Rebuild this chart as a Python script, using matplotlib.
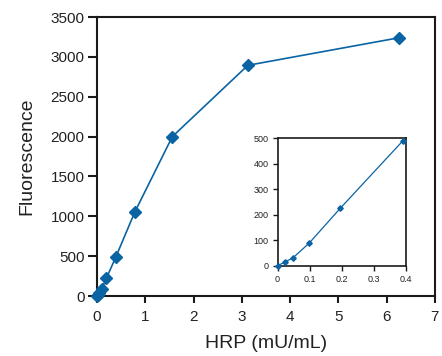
import matplotlib
matplotlib.use("Agg")
import matplotlib.pyplot as plt

hrp = [0.0, 0.0244, 0.049, 0.098, 0.195, 0.39, 0.78, 1.56, 3.125, 6.25]
fluor = [0, 15, 32, 88, 225, 490, 1050, 2000, 2895, 3240]

main_xticks = [0, 1, 2, 3, 4, 5, 6, 7]
main_yticks = [0, 500, 1000, 1500, 2000, 2500, 3000, 3500]
inset_xticks = [0, 0.1, 0.2, 0.3, 0.4]
inset_xlabels = ["0", "0.1", "0.2", "0.3", "0.4"]
inset_yticks = [0, 100, 200, 300, 400, 500]

color = "#0a64a4"
plt.rcParams['font.family'] = ['Liberation Sans', 'DejaVu Sans']

fig = plt.figure(figsize=(4.42, 3.56), dpi=100)
ax = fig.add_axes([0.2195, 0.1685, 0.7645, 0.7835])
ax.plot(hrp, fluor, color=color, lw=1.2, marker='D', ms=6.5, clip_on=False, zorder=3)
ax.set_xlim(0, 7)
ax.set_ylim(0, 3500)
ax.set_xticks(main_xticks)
ax.set_yticks(main_yticks)
for s in ax.spines.values():
    s.set_linewidth(1.5)
    s.set_color("#1a1a1a")
ax.tick_params(direction='out', width=1.5, length=6.5, labelsize=11, pad=2.5, color="#1a1a1a", labelcolor="#222222")
ax.tick_params(axis='x', length=5, pad=5)
ax.set_xlabel("HRP (mU/mL)", fontsize=14, labelpad=8, color="#222222")
ax.set_ylabel("Fluorescence", fontsize=14, labelpad=11, color="#222222")

ins = fig.add_axes([0.628, 0.2537, 0.2906, 0.3578])
n = 6
ins.plot(hrp[:n], fluor[:n], color=color, lw=0.9, marker='D', ms=2.8, clip_on=False, zorder=3)
ins.set_xlim(0, 0.4)
ins.set_ylim(0, 500)
ins.set_xticks(inset_xticks)
ins.set_xticklabels(inset_xlabels)
ins.set_yticks(inset_yticks)
for s in ins.spines.values():
    s.set_linewidth(1.2)
    s.set_color("#1a1a1a")
ins.tick_params(direction='out', width=1.0, length=3.5, labelsize=6.5, pad=3, color="#1a1a1a", labelcolor="#222222")

fig.savefig("out.png", dpi=100)
